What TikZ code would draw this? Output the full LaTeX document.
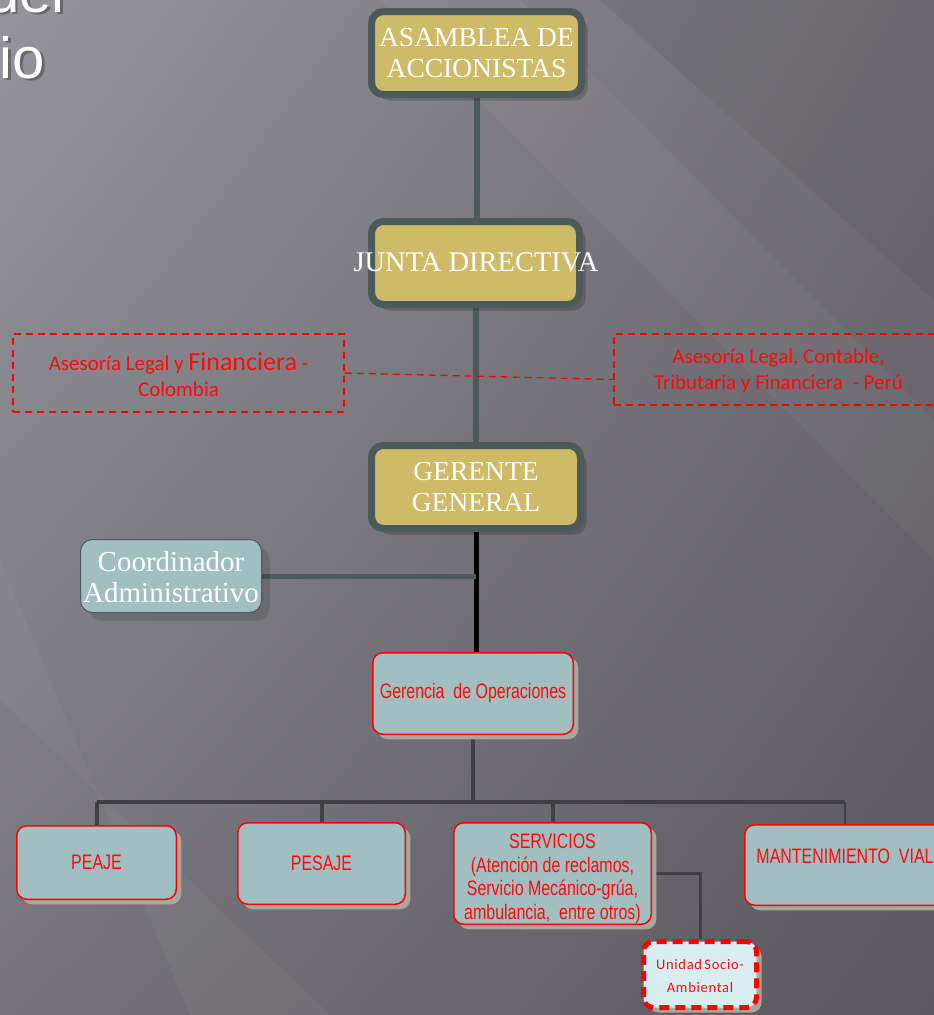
\documentclass[tikz,border=0pt]{standalone}
\usepackage{fontspec}
\setmainfont{Liberation Serif}
\newfontfamily\narrowsf[FakeStretch=0.76]{Liberation Sans}
\newfontfamily\carl{Carlito}
\newfontfamily\carlsp[LetterSpace=5]{Carlito}
\newfontfamily\titlesf{Liberation Sans}
\usetikzlibrary{shadows,shadings}
\definecolor{gold}{HTML}{CFBB67}
\definecolor{darkedge}{HTML}{4C5A5A}
\definecolor{teal}{HTML}{A1BFC1}
\definecolor{lightteal}{HTML}{D8EDEF}
\definecolor{shadowbeige}{HTML}{A9A69F}
\definecolor{busgray}{HTML}{3F3F44}
\definecolor{redtxt}{HTML}{FF0A0A}
\definecolor{bgUL}{RGB}{150,148,156}
\definecolor{bgUR}{RGB}{112,110,116}
\definecolor{bgLL}{RGB}{118,116,122}
\definecolor{bgLR}{RGB}{90,88,94}
\pgfdeclarelayer{bg}
\pgfdeclarelayer{lines}
\pgfsetlayers{bg,lines,main}
\tikzset{
  goldbox/.style={draw=darkedge, line width=7pt, rounded corners=12pt, fill=gold,
    drop shadow={shadow xshift=6pt, shadow yshift=-6pt, fill=black, opacity=0.18}},
  goldtext/.style={text=white, font=\fontsize{27.5}{31}\selectfont, align=center},
  tealbox/.style={draw=red, line width=1.5pt, rounded corners=10pt, fill=teal,
    drop shadow={shadow xshift=5pt, shadow yshift=-5pt, fill=shadowbeige, opacity=1}},
  redsans/.style={text=redtxt, font=\narrowsf\fontsize{21}{23.5}\selectfont, align=center},
  advbox/.style={draw=red, line width=1.5pt, dash pattern=on 7pt off 5pt},
  advtext/.style={text=redtxt, font=\carl\fontsize{21}{26}\selectfont, align=center},
  titletext/.style={anchor=base east, inner sep=0pt, text=white, font=\titlesf\fontsize{58}{60}\selectfont},
  goldline/.style={draw=darkedge, line width=6pt},
  busline/.style={draw=busgray, line width=4pt},
}
\begin{document}
\begin{tikzpicture}[x=1pt,y=-1pt]
\begin{pgfonlayer}{bg}
  \shade[upper left=bgUL, upper right=bgUR, lower left=bgLL, lower right=bgLR]
    (0,0) rectangle (934,1015);
  \fill[white, opacity=0.04] (380,0) -- (520,0) -- (934,420) -- (934,560) -- cycle;
  \fill[white, opacity=0.035] (0,560) -- (0,700) -- (330,1015) -- (190,1015) -- cycle;
  \fill[black, opacity=0.05] (600,0) -- (934,0) -- (934,300) -- cycle;
\end{pgfonlayer}
\useasboundingbox (0,0) rectangle (934,1015);

% title fragments (cut by the page edge)
\node[titletext, text=black!75, opacity=0.5] at (67.5,14.5) {del};
\node[titletext] (t1) at (65,12) {del};
\node[titletext, text=black!75, opacity=0.5] at (47.5,80.5) {io};
\node[titletext] (t2) at (45,78) {io};

% gold boxes
\node[goldbox, minimum width=210pt, minimum height=83pt] (asam) at (476.5,53) {};
\node[goldtext] at (asam) {ASAMBLEA DE\\ACCIONISTAS};
\node[goldbox, minimum width=208pt, minimum height=83pt] (junta) at (475.5,263) {};
\node[goldtext, font=\fontsize{28.5}{31}\selectfont] at (476,262) {JUNTA DIRECTIVA};
\node[goldbox, minimum width=209pt, minimum height=83pt] (ger) at (476,487) {};
\node[goldtext] at (ger) {GERENTE\\GENERAL};

% advisory boxes
\node[advbox, minimum width=331pt, minimum height=78pt] (adv1) at (178.5,373) {};
\node[advtext] at (178.5,375) {Asesoría Legal y {\fontsize{26}{26}\selectfont Financiera} -\\Colombia};
\node[advbox, minimum width=329pt, minimum height=71pt] (adv2) at (778.5,369.5) {};
\node[advtext] at (778.5,371) {Asesoría Legal, Contable,\\Tributaria y Financiera~ - Perú};

% coordinador
\node[draw=darkedge, line width=1pt, rounded corners=12pt, fill=teal, minimum width=181pt, minimum height=73pt,
  drop shadow={shadow xshift=8pt, shadow yshift=-8pt, fill=black, opacity=0.12}] (coord) at (171,576) {};
\node[text=white, align=center, font=\fontsize{29}{31}\selectfont] at (171,577) {Coordinador\\Administrativo};

% operations
\node[tealbox, minimum width=200.5pt, minimum height=81.5pt] (oper) at (473,693.5) {};
\node[redsans] at (oper) {Gerencia~ de Operaciones};

\node[tealbox, minimum width=159.5pt, minimum height=73.5pt] (peaje) at (96.5,862.5) {};
\node[redsans] at (peaje) {PEAJE};
\node[tealbox, minimum width=167.5pt, minimum height=81.5pt] (pesaje) at (321.5,863.5) {};
\node[redsans] at (pesaje) {PESAJE};
\node[tealbox, minimum width=197.5pt, minimum height=101.5pt] (serv) at (552.5,873.5) {};
\node[redsans] at (552.5,879) {SERVICIOS\\(Atención de reclamos,\\Servicio Mecánico-grúa,\\ambulancia,~ entre otros)};
\node[tealbox, minimum width=200.5pt, minimum height=80.5pt] (mant) at (845,865) {};
\node[redsans, anchor=center] at (845,856) {MANTENIMIENTO~ VIAL};

\node[draw=red, line width=5pt, dash pattern=on 10pt off 6pt, rounded corners=10pt, fill=lightteal,
  minimum width=113pt, minimum height=66pt,
  drop shadow={shadow xshift=5pt, shadow yshift=-5pt, fill=shadowbeige, opacity=1}] (unid) at (700,974.5) {};
\node[text=redtxt, align=center, font=\carlsp\fontsize{14.5}{23}\selectfont] at (700,976) {Unidad\,Socio-\\Ambiental};

% connectors
\begin{pgfonlayer}{lines}
  \draw[goldline] (asam.south) -- (asam.south |- junta.north);
  \draw[goldline] (junta.south) -- (junta.south |- ger.north);
  \draw[red, line width=1.3pt, dash pattern=on 7pt off 5pt] (adv1.east) -- ([yshift=-10pt]adv2.west);
  \draw[black, line width=5pt] (ger.south) -- (ger.south |- oper.north);
  \coordinate (cj) at (ger.south |- coord.east);
  \draw[draw=darkedge, line width=5pt] (coord.east) -- (cj);
  \coordinate (bus) at (oper.south |- 0,802);
  \draw[busline] (oper.south) -- (bus);
  \draw[busline] (peaje.north |- bus) -- (mant.north |- bus);
  \draw[busline] (peaje.north) -- (peaje.north |- bus);
  \draw[busline] (pesaje.north) -- (pesaje.north |- bus);
  \draw[busline] (serv.north) -- (serv.north |- bus);
  \draw[busline, line width=2.5pt] (mant.north) -- (mant.north |- bus);
  \draw[draw=busgray, line width=3pt] (serv.east) -| (unid.north);
\end{pgfonlayer}
\end{tikzpicture}
\end{document}
